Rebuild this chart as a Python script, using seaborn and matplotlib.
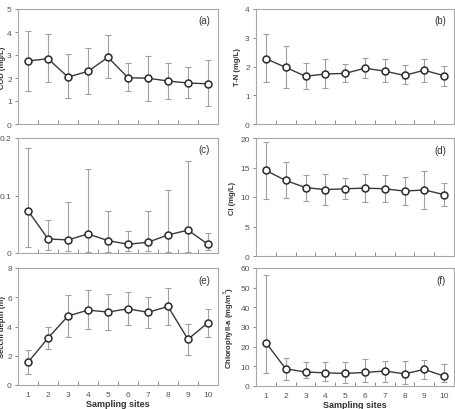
import matplotlib
matplotlib.use("Agg")
import matplotlib.pyplot as plt
import numpy as np
import pandas as pd
import seaborn as sns

SITES = [1, 2, 3, 4, 5, 6, 7, 8, 9, 10]

COD_MEAN = [2.74, 2.84, 2.04, 2.29, 2.90, 2.01, 1.99, 1.87, 1.78, 1.75]
COD_LOW = [1.45, 1.81, 1.12, 1.30, 1.99, 1.42, 1.01, 1.09, 1.14, 0.77]
COD_HIGH = [4.06, 3.91, 3.03, 3.29, 3.86, 2.64, 2.97, 2.67, 2.48, 2.78]

TN_MEAN = [2.27, 1.97, 1.66, 1.74, 1.76, 1.94, 1.84, 1.69, 1.87, 1.68]
TN_LOW = [1.45, 1.24, 1.22, 1.24, 1.47, 1.59, 1.45, 1.38, 1.47, 1.33]
TN_HIGH = [3.12, 2.71, 2.11, 2.26, 2.08, 2.31, 2.25, 2.05, 2.27, 2.03]

TP_MEAN = [0.0735, 0.0245, 0.0227, 0.0332, 0.0216, 0.0152, 0.0187, 0.0315, 0.0397, 0.0152]
TP_LOW = [0.0105, 0.006, 0.0035, 0.0017, 0.0017, 0.003, 0.0035, 0.0017, 0.0017, 0.0047]
TP_HIGH = [0.182, 0.0566, 0.0886, 0.146, 0.0723, 0.039, 0.0723, 0.109, 0.160, 0.035]

CL_MEAN = [14.5, 12.8, 11.6, 11.25, 11.4, 11.5, 11.4, 11.0, 11.2, 10.4]
CL_LOW = [9.7, 9.9, 9.4, 8.6, 9.7, 9.1, 9.1, 8.7, 8.0, 8.5]
CL_HIGH = [19.4, 15.9, 13.8, 13.9, 13.2, 13.9, 13.7, 13.4, 14.4, 12.4]

SD_MEAN = [1.55, 3.21, 4.72, 5.12, 4.99, 5.21, 4.97, 5.37, 3.12, 4.27]
SD_LOW = [0.76, 2.47, 3.28, 3.80, 3.73, 4.11, 3.89, 4.09, 2.04, 3.28]
SD_HIGH = [2.38, 3.96, 6.16, 6.47, 6.25, 6.34, 6.02, 6.65, 4.18, 5.21]

CHL_MEAN = [22.0, 8.75, 7.1, 6.7, 6.4, 6.9, 7.6, 6.2, 8.4, 5.05]
CHL_LOW = [6.4, 3.2, 4.0, 2.7, 1.5, 1.85, 1.85, 1.2, 3.5, 2.2]
CHL_HIGH = [56.5, 14.3, 12.3, 12.3, 12.1, 13.5, 12.6, 12.5, 13.0, 11.3]

# the (c) panel's y label is cropped away in the source figure
PANELS = [
    ("(a)", "COD (mg/L)", COD_MEAN, COD_LOW, COD_HIGH, [0, 1, 2, 3, 4, 5], ["0", "1", "2", "3", "4", "5"]),
    ("(b)", "T-N (mg/L)", TN_MEAN, TN_LOW, TN_HIGH, [0, 1, 2, 3, 4], ["0", "1", "2", "3", "4"]),
    ("(c)", "", TP_MEAN, TP_LOW, TP_HIGH, [0, 0.1, 0.2], ["0", "0.1", "0.2"]),
    ("(d)", "Cl (mg/L)", CL_MEAN, CL_LOW, CL_HIGH, [0, 5, 10, 15, 20], ["0", "5", "10", "15", "20"]),
    ("(e)", "Secchi depth (m)", SD_MEAN, SD_LOW, SD_HIGH, [0, 2, 4, 6, 8], ["0", "2", "4", "6", "8"]),
    ("(f)", "Chlorophyll-a (mg/m$^3$)", CHL_MEAN, CHL_LOW, CHL_HIGH,
     [0, 10, 20, 30, 40, 50, 60], ["0", "10", "20", "30", "40", "50", "60"]),
]

# axes boxes in pixels (left, top, right, bottom) on a 455x410 canvas
BOXES = [
    (18, 10, 218, 125), (256, 10, 454, 125),
    (18, 139, 218, 254), (256, 139, 454, 257),
    (18, 269, 218, 386), (256, 269, 454, 387),
]

W, H = 455, 410

sns.set_theme(style="ticks")
plt.rcParams["font.family"] = ["Liberation Sans", "DejaVu Sans"]

fig = plt.figure(figsize=(W / 100, H / 100), dpi=100)

for i, (tag, ylabel, mean, low, high, yticks, ylabels) in enumerate(PANELS):
    l, t, r, b = BOXES[i]
    ax = fig.add_axes([l / W, 1 - b / H, (r - l) / W, (b - t) / H])
    df = pd.DataFrame({"site": SITES, "value": mean})
    mean_a = np.array(mean)
    yerr = [mean_a - np.array(low), np.array(high) - mean_a]
    ax.errorbar(SITES, mean, yerr=yerr, fmt="none", ecolor="#a0a0a0",
                elinewidth=0.8, capsize=2, capthick=0.8, zorder=1)
    sns.lineplot(data=df, x="site", y="value", ax=ax, color="#3a3a3a", linewidth=1.0,
                 marker="o", markersize=5, markerfacecolor="white",
                 markeredgecolor="#2a2a2a", markeredgewidth=1.1, zorder=3)

    ax.set_xlim(0.5, 10.5)
    ax.set_ylim(yticks[0], yticks[-1])
    ax.set_yticks(yticks)
    ax.set_yticklabels(ylabels)
    ax.set_xticks(SITES)
    ax.set_xticks([s + 0.5 for s in SITES[:-1]], minor=True)
    ax.tick_params(axis="x", which="major", length=0, labelsize=6, colors="#555555", pad=4)
    ax.tick_params(axis="x", which="minor", direction="in", length=3, color="#777777", width=0.6)
    ax.tick_params(axis="y", direction="out", length=2.5, width=0.6, color="#777777",
                   labelsize=6, labelcolor="#555555", pad=2)
    if i < 4:
        ax.set_xticklabels([])
        ax.set_xlabel("")
    else:
        ax.set_xlabel("Sampling sites", fontsize=6.5, fontweight="bold", color="#333333", labelpad=1)
    pad = 1 if i % 2 == 0 else 3
    ax.set_ylabel(ylabel, fontsize=5.5, fontweight="bold", color="#333333", labelpad=pad)
    for sp in ax.spines.values():
        sp.set_color("#a8a8a8")
        sp.set_linewidth(0.8)
    ax.text(0.96, 0.9, tag, transform=ax.transAxes, ha="right", va="center",
            fontsize=7, color="#333333")

fig.savefig("out.png", dpi=100)
